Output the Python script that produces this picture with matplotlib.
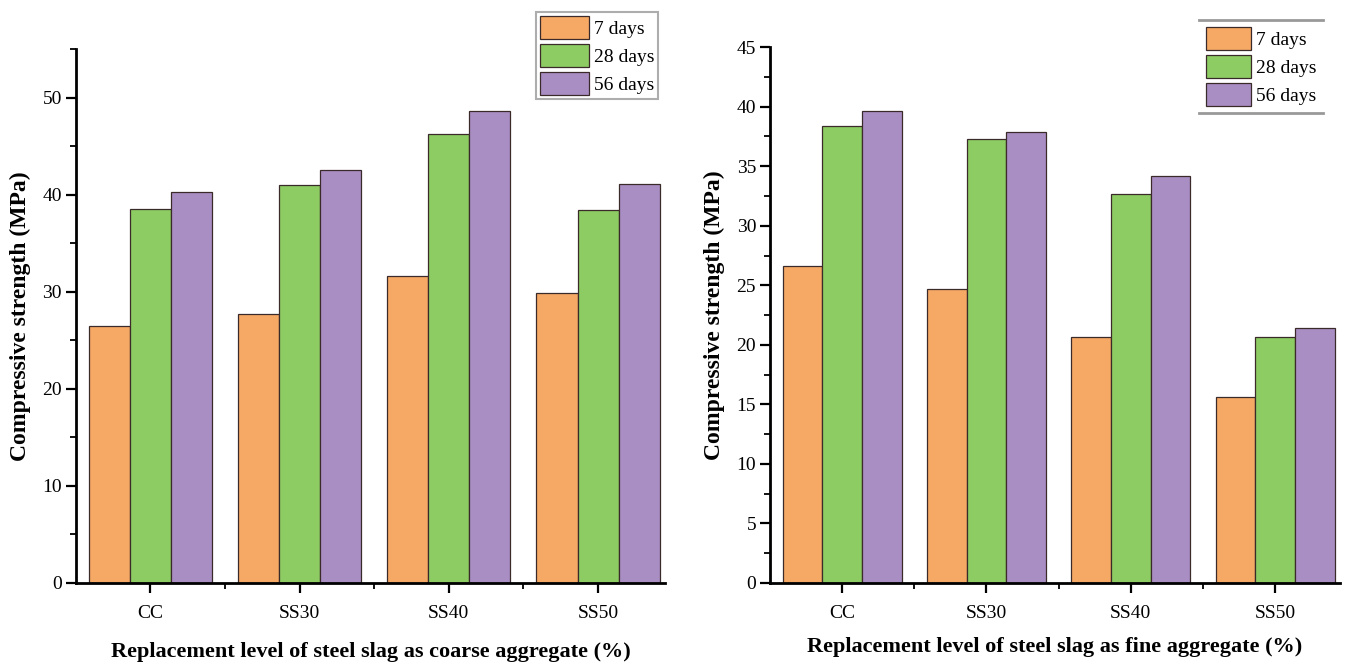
import numpy as np
import matplotlib
matplotlib.use("Agg")
import matplotlib.pyplot as plt
from matplotlib.ticker import MultipleLocator, FixedLocator

plt.rcParams['font.family'] = ['Liberation Serif', 'DejaVu Serif']

# Datos
mezclas = ["CC", "SS30", "SS40", "SS50"]
edades = ["7 days", "28 days", "56 days"]

grueso_7 = [26.5, 27.7, 31.6, 29.9]
grueso_28 = [38.5, 41.0, 46.3, 38.4]
grueso_56 = [40.3, 42.5, 48.6, 41.1]

fino_7 = [26.6, 24.7, 20.7, 15.6]
fino_28 = [38.4, 37.3, 32.7, 20.7]
fino_56 = [39.6, 37.9, 34.2, 21.4]

colores = ['#F6A865', '#8DCB63', '#A98EC3']

fig = plt.figure(figsize=(13.52, 6.64), dpi=100)
ax1 = fig.add_axes([0.056, 0.122, 0.436, 0.804])
ax2 = fig.add_axes([0.5695, 0.122, 0.4216, 0.807])


def dibujar(ax, series, ymax, paso, paso_menor, xlabel, pad):
    x = np.arange(len(mezclas))
    ancho = 0.275
    for i, (vals, c) in enumerate(zip(series, colores)):
        ax.bar(x + (i - 1) * ancho, vals, ancho, color=c,
               edgecolor='#3a2a2a', linewidth=0.9, label=edades[i])
    ax.set_xlim(-0.5, 3.45)
    ax.set_ylim(0, ymax)
    ax.spines['top'].set_visible(False)
    ax.spines['right'].set_visible(False)
    ax.spines['left'].set_linewidth(2)
    ax.spines['bottom'].set_linewidth(2)
    ax.set_xticks(x)
    ax.set_xticklabels(mezclas, fontsize=14)
    ax.xaxis.set_minor_locator(FixedLocator([0.5, 1.5, 2.5]))
    ax.yaxis.set_major_locator(MultipleLocator(paso))
    ax.yaxis.set_minor_locator(MultipleLocator(paso_menor))
    ax.tick_params(axis='y', which='major', length=7, width=1.6, labelsize=14, pad=3)
    ax.tick_params(axis='y', which='minor', length=4, width=1.3)
    ax.tick_params(axis='x', which='major', length=7, width=1.6, pad=9)
    ax.tick_params(axis='x', which='minor', length=4, width=1.3)
    ax.set_ylabel("Compressive strength (MPa)", fontsize=17, fontweight='bold',
                  labelpad=8)
    ax.set_xlabel(xlabel, fontsize=16, fontweight='bold', labelpad=pad)


dibujar(ax1, [grueso_7, grueso_28, grueso_56], 55, 10, 5,
        "Replacement level of steel slag as coarse aggregate (%)", 14)
dibujar(ax2, [fino_7, fino_28, fino_56], 45, 5, 2.5,
        "Replacement level of steel slag as fine aggregate (%)", 11)

leg1 = ax1.legend(loc='upper right', bbox_to_anchor=(0.988, 1.07), fontsize=14,
                  frameon=True, fancybox=False, handlelength=2.5, handleheight=1.45,
                  handletextpad=0.25, labelspacing=0.25, borderpad=0.2,
                  borderaxespad=0.0)
leg1.get_frame().set_edgecolor('#999999')
leg1.get_frame().set_linewidth(1.5)

leg2 = ax2.legend(loc='upper right', bbox_to_anchor=(0.97, 1.05), fontsize=14,
                  frameon=True, fancybox=False, handlelength=2.3, handleheight=1.45,
                  handletextpad=0.25, labelspacing=0.25, borderpad=0.35,
                  borderaxespad=0.0)
leg2.get_frame().set_linewidth(0)

# lineas grises arriba y abajo de la leyenda derecha
fig.canvas.draw()
bb = leg2.get_window_extent().transformed(fig.transFigure.inverted())
for yy in (bb.y0, bb.y1):
    fig.add_artist(plt.Line2D([bb.x0, bb.x1], [yy, yy], color='#999999',
                              linewidth=2, transform=fig.transFigure))

fig.savefig("out.png", dpi=100)
